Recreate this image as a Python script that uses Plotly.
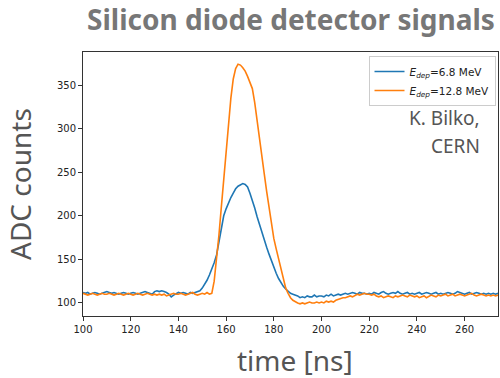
import plotly.graph_objects as go

time_ns = list(range(100, 275))

adc_6p8 = [
    112, 111, 112, 110, 111, 112, 111, 110, 111, 112,
    113, 112, 111, 112, 111, 110, 111, 112, 111, 110,
    111, 112, 111, 110, 111, 112, 113, 112, 111, 110,
    113, 114, 113, 114, 113, 112, 110, 107, 109, 111,
    112, 111, 112, 111, 110, 112, 111, 112, 113, 114,
    117, 121, 126, 132, 138, 146, 155, 170, 186, 200,
    208, 215, 221, 226, 231, 234, 236, 237, 236, 233,
    226, 218, 209, 199, 190, 180, 172, 164, 156, 148,
    141, 134, 128, 123, 119, 116, 113, 111, 110, 109,
    108, 106, 107, 106, 108, 107, 107, 109, 107, 108,
    108, 107, 109, 108, 110, 108, 109, 110, 109, 110,
    111, 110, 111, 112, 111, 110, 112, 111, 111, 110,
    111, 110, 112, 111, 110, 112, 113, 111, 110, 111,
    112, 111, 113, 111, 110, 111, 112, 110, 111, 110,
    111, 112, 110, 111, 112, 111, 110, 111, 112, 110,
    111, 110, 111, 112, 111, 110, 111, 113, 112, 111,
    110, 111, 112, 110, 111, 112, 111, 110, 111, 110,
    111, 110, 111, 110, 111,
]

adc_12p8 = [
    111, 110, 109, 110, 111, 110, 109, 110, 111, 110,
    110, 111, 110, 109, 110, 111, 110, 109, 110, 111,
    110, 109, 110, 111, 110, 109, 110, 111, 110, 109,
    110, 109, 110, 109, 110, 108, 109, 110, 111, 110,
    110, 111, 110, 109, 110, 111, 112, 110, 109, 110,
    111, 110, 112, 110, 111, 125, 148, 178, 210, 242,
    272, 305, 335, 357, 369, 374, 373, 370, 366, 360,
    354, 346, 330, 308, 288, 268, 248, 228, 208, 190,
    174, 162, 150, 139, 128, 117, 111, 106, 103, 101,
    100, 99, 100, 99, 100, 101, 100, 100, 101, 100,
    101, 100, 102, 101, 102, 101, 103, 104, 105, 106,
    106, 107, 108, 107, 109, 110, 109, 110, 111, 110,
    110, 109, 110, 108, 107, 108, 106, 107, 108, 107,
    106, 108, 107, 108, 109, 108, 107, 109, 108, 107,
    108, 106, 107, 108, 106, 108, 109, 108, 107, 109,
    108, 109, 110, 108, 109, 110, 108, 109, 110, 109,
    108, 109, 110, 111, 109, 108, 109, 110, 109, 108,
    109, 108, 109, 108, 109,
]

series_names = ["<i>E</i><sub><i>dep</i></sub>=6.8 MeV",
                "<i>E</i><sub><i>dep</i></sub>=12.8 MeV"]
series_colors = ["#1f77b4", "#ff7f0e"]

x_ticks = [100, 120, 140, 160, 180, 200, 220, 240, 260]
y_ticks = [100, 150, 200, 250, 300, 350]

fig = go.Figure()
for vals, name, col in zip([adc_6p8, adc_12p8], series_names, series_colors):
    fig.add_trace(go.Scatter(x=time_ns, y=vals, mode="lines", name=name,
                             line=dict(color=col, width=1.6)))

axis_common = dict(showgrid=False, zeroline=False, showline=True, linecolor="#333333",
                   linewidth=1, mirror=True, ticks="outside", ticklen=4, tickwidth=1,
                   tickcolor="#333333",
                   tickfont=dict(family="DejaVu Sans", size=10, color="#222222"))

fig.update_layout(
    width=500, height=378,
    margin=dict(l=83, r=2, t=52, b=62),
    paper_bgcolor="white", plot_bgcolor="white",
    showlegend=True,
    legend=dict(x=0.994, y=0.985, xanchor="right", yanchor="top",
                bgcolor="rgba(255,255,255,0.9)", bordercolor="#cccccc", borderwidth=1,
                font=dict(family="DejaVu Sans", size=10.5, color="#222222"),
                tracegroupgap=0, itemwidth=30),
    xaxis=dict(range=[100, 274], tickvals=x_ticks, **axis_common),
    yaxis=dict(range=[85, 388], tickvals=y_ticks, **axis_common),
    annotations=[
        dict(text="<b>Silicon diode detector signals</b>", xref="paper", yref="paper",
             x=0.5, y=1, yshift=33, xanchor="center", yanchor="middle", showarrow=False,
             font=dict(family="Noto Sans", size=28, color="#777777")),
        dict(text="ADC counts", xref="paper", yref="paper", x=0, xshift=-63, y=0.5,
             textangle=-90, xanchor="center", yanchor="middle", showarrow=False,
             font=dict(family="Noto Sans", size=28, color="#555555")),
        dict(text="time [ns]", xref="paper", yref="paper", x=0.5, xshift=4, y=0, yshift=-44,
             xanchor="center", yanchor="middle", showarrow=False,
             font=dict(family="Noto Sans", size=28, color="#555555")),
        dict(text="K. Bilko,", xref="paper", yref="paper", x=0.961, y=0.75,
             xanchor="right", yanchor="middle", align="right", showarrow=False,
             font=dict(family="Noto Sans", size=19, color="#555555")),
        dict(text="CERN", xref="paper", yref="paper", x=0.961, y=0.644,
             xanchor="right", yanchor="middle", align="right", showarrow=False,
             font=dict(family="Noto Sans", size=19, color="#555555")),
    ],
)

fig.write_html("out.html")
